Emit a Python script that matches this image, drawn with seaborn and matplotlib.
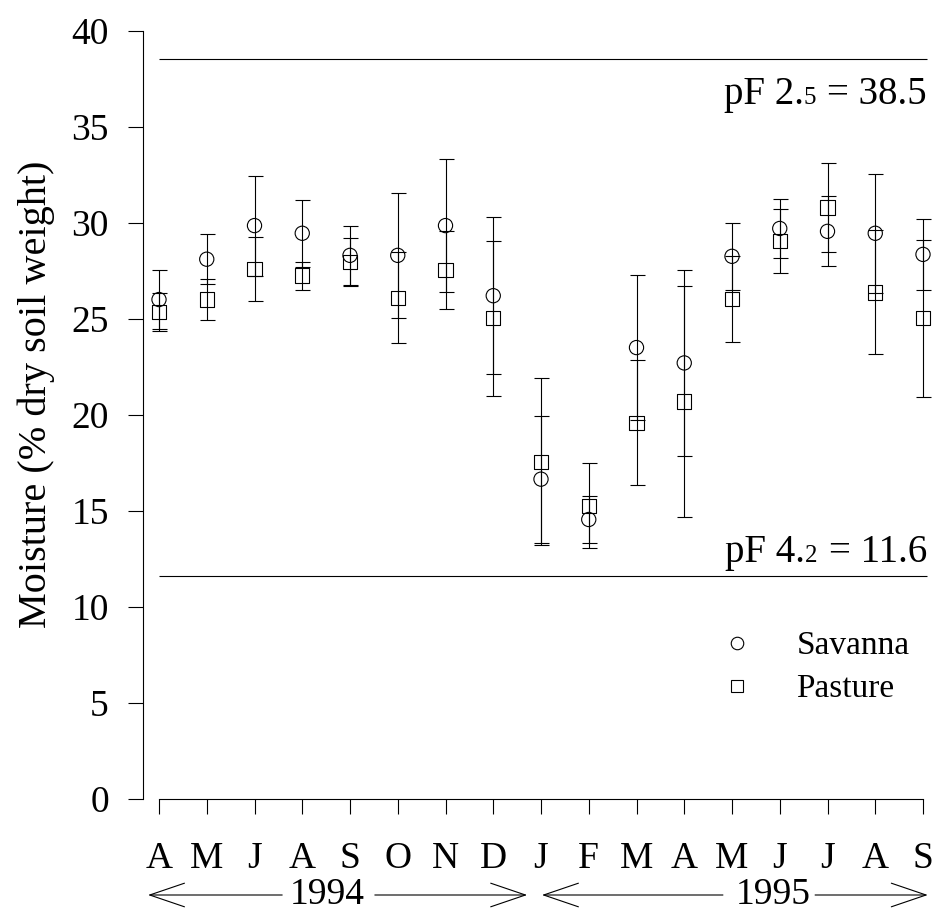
import numpy as np
import pandas as pd
import matplotlib
matplotlib.use("Agg")
import matplotlib.pyplot as plt
import matplotlib.transforms as mtransforms
from matplotlib.lines import Line2D
from matplotlib.offsetbox import TextArea, HPacker, AnnotationBbox
import seaborn as sns

# Monthly soil moisture, April 1994 - September 1995
months = ["A", "M", "J", "A", "S", "O", "N", "D", "J", "F", "M", "A", "M", "J", "J", "A", "S"]
savanna = [26.0, 28.1, 29.85, 29.45, 28.3, 28.3, 29.85, 26.2, 16.65, 14.55,
           23.5, 22.7, 28.25, 29.7, 29.55, 29.45, 28.35]
savanna_sd = [1.55, 1.3, 2.6, 1.74, 1.52, 3.24, 3.48, 4.1, 3.31, 1.2,
              3.77, 4.85, 1.75, 1.52, 1.82, 3.1, 1.85]
pasture = [25.35, 26.0, 27.57, 27.25, 27.97, 26.1, 27.54, 25.02, 17.55, 15.27,
           19.59, 20.69, 26.03, 29.05, 30.79, 26.37, 25.02]
pasture_sd = [1.0, 1.09, 1.67, 0.73, 1.25, 2.35, 2.03, 4.05, 4.35, 2.2,
              3.25, 5.99, 2.25, 1.67, 2.32, 3.23, 4.07]
years = ["1994", "1995"]
field_capacity = 38.5   # pF 2.5
wilting_point = 11.6    # pF 4.2

sns.set_theme(style="ticks")
SERIF = ["Liberation Serif", "DejaVu Serif"]
plt.rcParams["font.family"] = SERIF
plt.rcParams["text.color"] = "black"
plt.rcParams["axes.labelcolor"] = "black"
plt.rcParams["xtick.color"] = "black"
plt.rcParams["ytick.color"] = "black"

pos = np.arange(len(months))
df = pd.DataFrame({
    "pos": np.concatenate([pos, pos]),
    "moisture": savanna + pasture,
    "sd": savanna_sd + pasture_sd,
    "site": ["Savanna"] * len(pos) + ["Pasture"] * len(pos),
})

fig = plt.figure(figsize=(9.42, 9.19), dpi=100)
W, H = 942, 919
ax = fig.add_axes([143 / W, (H - 799) / H, (940 - 143) / W, (799 - 21) / H])

# error bars for both sites
for site in ["Savanna", "Pasture"]:
    d = df[df.site == site]
    ax.errorbar(d.pos, d.moisture, yerr=d.sd, fmt="none", ecolor="black",
                elinewidth=0.8, capsize=5.4, capthick=0.8, zorder=2)

sns.scatterplot(data=df, x="pos", y="moisture", style="site",
                markers={"Savanna": "o", "Pasture": "s"}, s=105,
                color="black", linewidth=0.8, legend=False, ax=ax, zorder=3)
for coll in ax.collections:
    coll.set_facecolor("none")
    coll.set_edgecolor("black")
    coll.set_linewidth(0.8)

# reference moisture levels
ax.hlines([field_capacity, wilting_point], 0, 16.08, color="black", lw=0.8)


def pf_label(pf_int, pf_dec, value, y, dy_pt):
    big = dict(fontsize=28, family=SERIF, color="black")
    small = dict(fontsize=18, family=SERIF, color="black")
    left = HPacker(children=[TextArea(f"pF {pf_int}.", textprops=big),
                             TextArea(pf_dec, textprops=small)],
                   align="baseline", pad=0, sep=0)
    box = HPacker(children=[left, TextArea(f"= {value}", textprops=big)],
                  align="baseline", pad=0, sep=8)
    ab = AnnotationBbox(box, (16.08, y), xybox=(0, dy_pt), xycoords="data",
                        boxcoords="offset points", box_alignment=(1, 0.5),
                        frameon=False, pad=0)
    ax.add_artist(ab)


pf_label(2, "5", field_capacity, field_capacity, -25)
pf_label(4, "2", wilting_point, wilting_point, 17)

ax.set_xlim(-(159 - 143) / 47.75, (940 - 159) / 47.75)
ax.set_ylim(0, 40.5)
ax.set_yticks(np.arange(0, 41, 5))
ax.set_xticks(pos)
ax.set_xticklabels(months)
ax.set_xlabel("")
ax.set_ylabel("Moisture (% dry soil weight)", fontsize=29)
ax.yaxis.set_label_coords(-0.11, 0.52)
ax.tick_params(axis="both", labelsize=27, length=10.5, width=0.8, direction="out")
ax.tick_params(axis="y", pad=14)
ax.tick_params(axis="x", pad=20)

for side in ["top", "right"]:
    ax.spines[side].set_visible(False)
ax.spines["left"].set_bounds(0, 40)
ax.spines["bottom"].set_bounds(0, 16)
for side in ["left", "bottom"]:
    ax.spines[side].set_linewidth(0.8)
    ax.spines[side].set_color("black")

# year spans below the month labels
trans = mtransforms.blended_transform_factory(ax.transData, fig.transFigure)
yy = 1 - 895 / H
arrow = dict(arrowstyle="->,head_length=25,head_width=8.5", lw=0.8,
             color="black", mutation_scale=1, shrinkA=0, shrinkB=0)
spans = [(years[0], 3.52, (2.58, -0.23), (4.52, 7.71)),
         (years[1], 12.87, (11.81, 8.02), (13.74, 16.1))]
for label, xc, (l_tail, l_tip), (r_tail, r_tip) in spans:
    ax.text(xc, yy, label, transform=trans, ha="center", va="center",
            fontsize=27, clip_on=False)
    ax.annotate("", xy=(l_tip, yy), xytext=(l_tail, yy), xycoords=trans,
                textcoords=trans, arrowprops=arrow, annotation_clip=False)
    ax.annotate("", xy=(r_tip, yy), xytext=(r_tail, yy), xycoords=trans,
                textcoords=trans, arrowprops=arrow, annotation_clip=False)

handles = [Line2D([], [], marker="o", ls="none", mfc="none", mec="black", ms=9.0, mew=0.8),
           Line2D([], [], marker="s", ls="none", mfc="none", mec="black", ms=8.4, mew=0.8)]
ax.legend(handles, ["Savanna", "Pasture"], frameon=False, fontsize=24,
          loc="upper left", bbox_to_anchor=(720 / W, 1 - 631 / H),
          bbox_transform=fig.transFigure, borderpad=0, borderaxespad=0,
          handlelength=1.0, handletextpad=1.29, labelspacing=0.37)

fig.savefig("out.png", dpi=100, facecolor="white")
